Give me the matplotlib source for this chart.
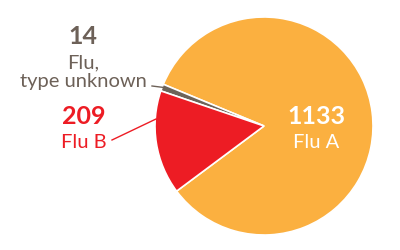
import matplotlib.pyplot as plt

labels = ['Flu A', 'Flu,\ntype unknown', 'Flu B']
counts = [1133, 14, 209]
colors = ['#FBB040', '#6D6359', '#ED1C24']

plt.rcParams['font.family'] = ['Lato', 'DejaVu Sans']

fig = plt.figure(figsize=(4, 2.5), dpi=100)
ax = fig.add_axes([0, 0, 1, 1])

# pie in pixel coords (y up)
ax.pie(counts, colors=colors, startangle=-143.3, counterclock=True,
       center=(264, 124), radius=109,
       wedgeprops=dict(edgecolor='white', linewidth=1.2))
ax.set_xlim(0, 400)
ax.set_ylim(0, 250)
ax.axis('off')

# Flu A inside
ax.text(316, 250 - 116, str(counts[0]), color='white', fontsize=18,
        fontweight='bold', ha='center', va='center')
ax.text(316, 250 - 143, labels[0], color='white', fontsize=14.5,
        ha='center', va='center')

# unknown
grey = '#6D6158'
ax.text(83, 250 - 36, str(counts[1]), color=grey, fontsize=18,
        fontweight='bold', ha='center', va='center')
ax.text(83, 250 - 72, labels[1], color=grey, fontsize=14.5,
        ha='center', va='center', linespacing=1.1)
ax.plot([152, 164], [250 - 86, 250 - 87.5], color=grey, lw=1)

# Flu B
red = '#ED1C24'
ax.text(84, 250 - 116, str(counts[2]), color=red, fontsize=18,
        fontweight='bold', ha='center', va='center')
ax.text(84, 250 - 143, labels[2], color=red, fontsize=14.5,
        ha='center', va='center')
ax.plot([112, 156], [250 - 140, 250 - 119], color=red, lw=1)

fig.savefig('out.png', dpi=100)
